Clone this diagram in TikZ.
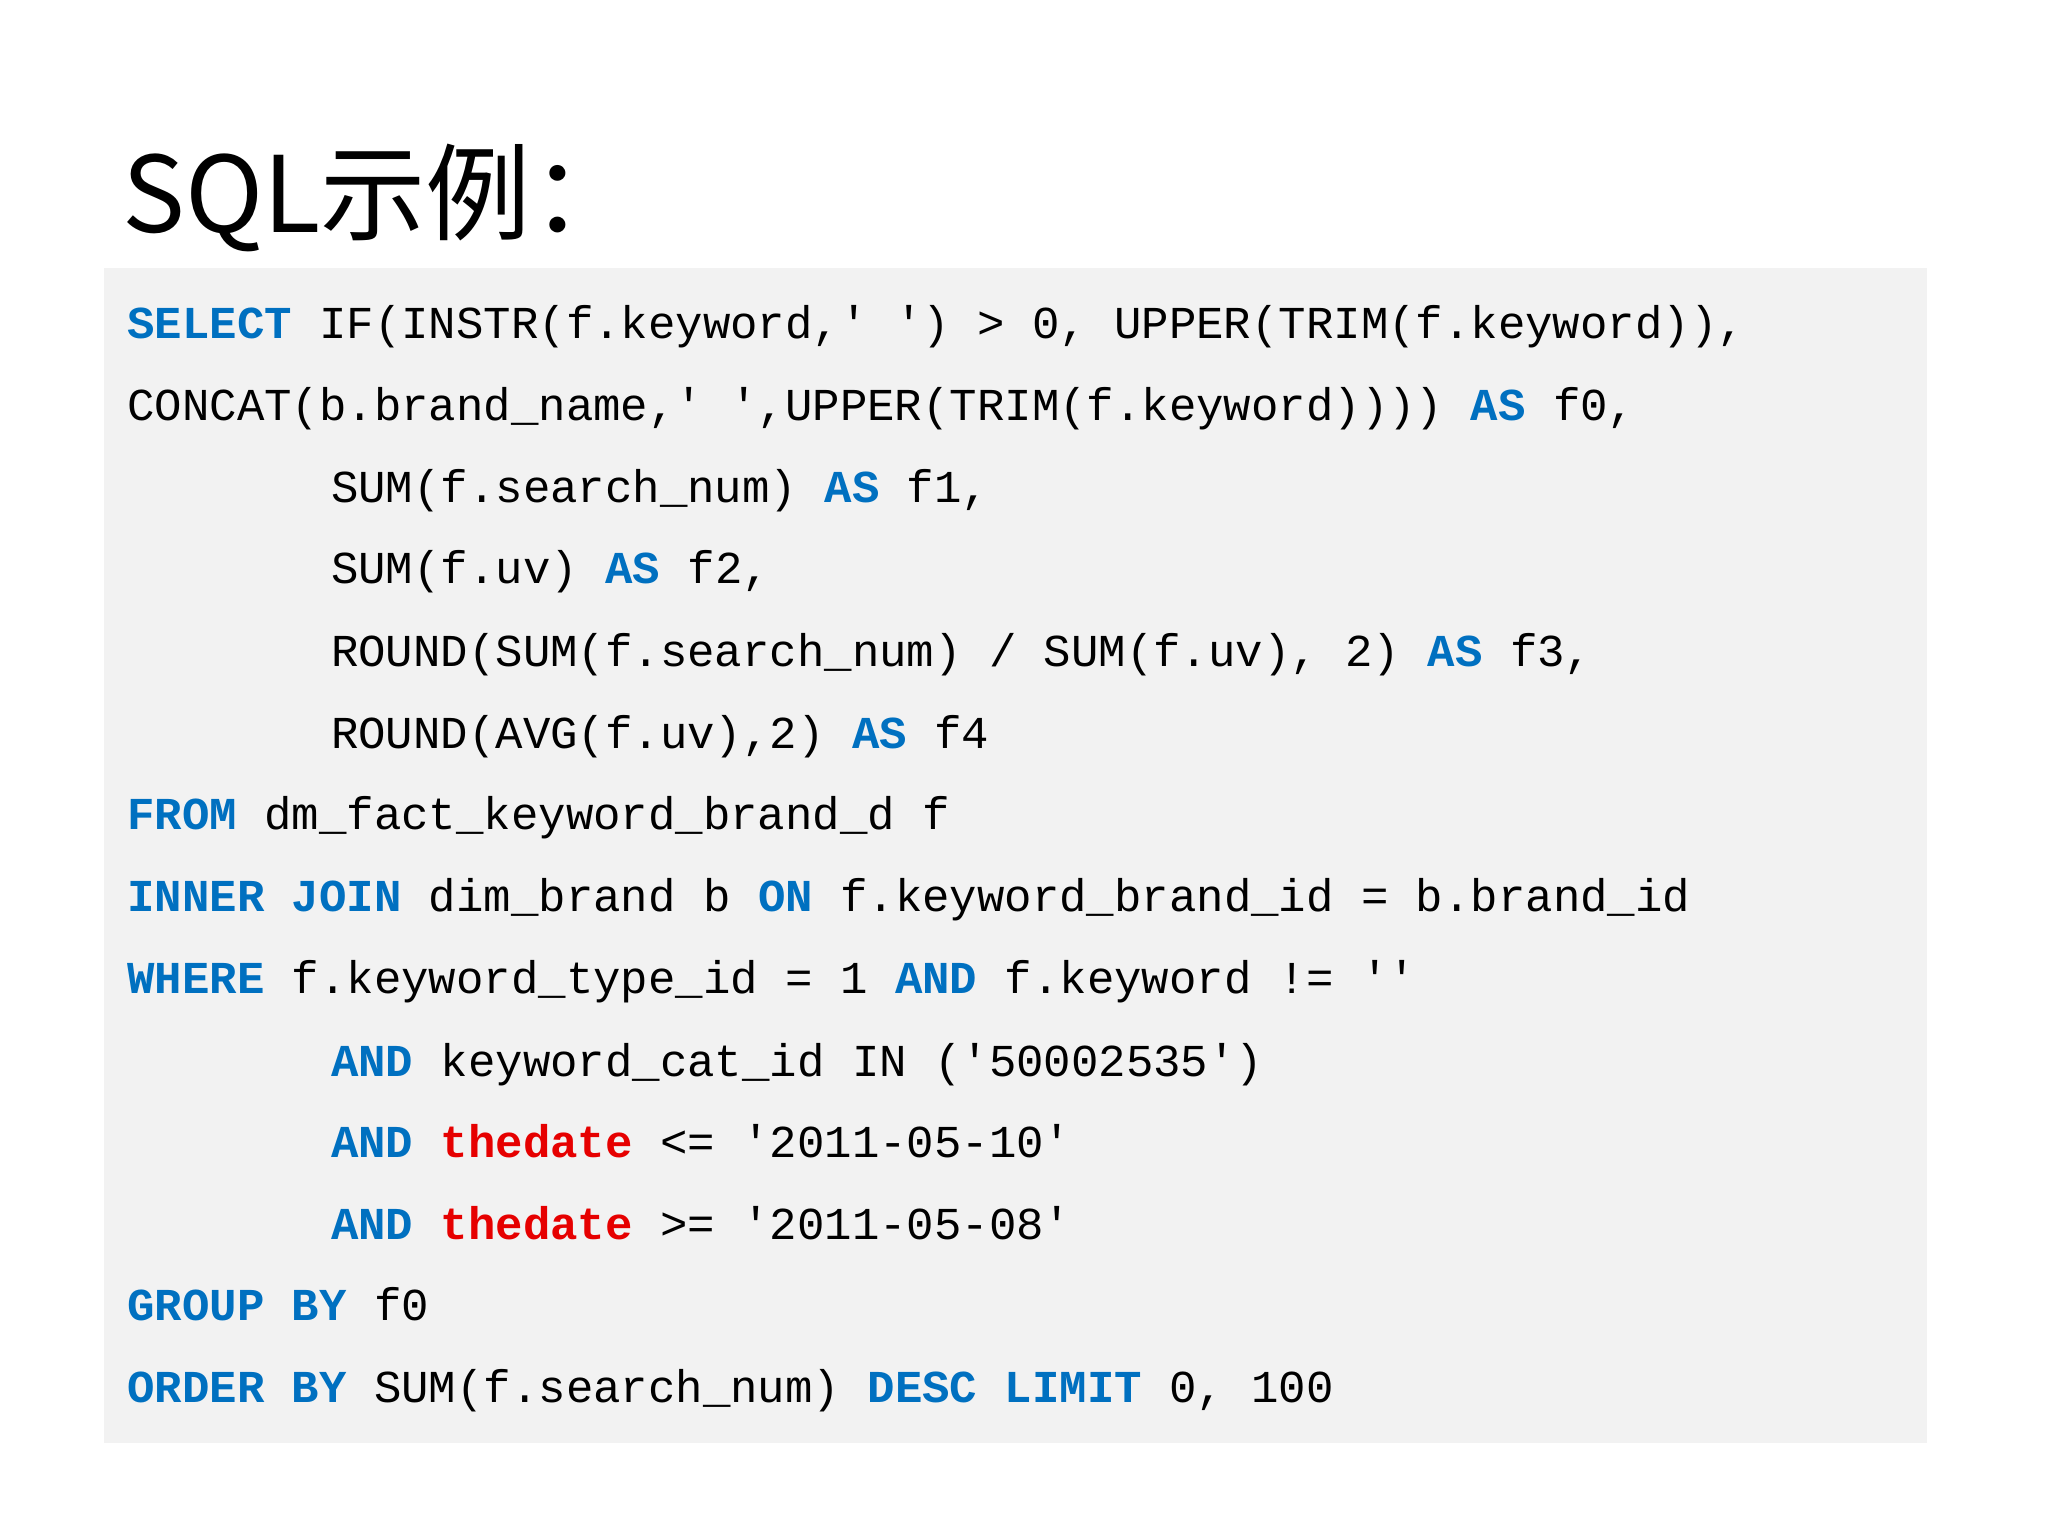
\documentclass[tikz,border=0pt]{standalone}
\usepackage{fontspec}
\setmonofont{Liberation Mono}
\newfontfamily\cjk{Noto Sans CJK SC}
\definecolor{kwblue}{RGB}{0,112,192}
\definecolor{kwred}{RGB}{230,0,0}
\definecolor{codebg}{RGB}{242,242,242}
\newcommand{\kw}[1]{\textcolor{kwblue}{\textbf{#1}}}
\newcommand{\hl}[1]{\textcolor{kwred}{\textbf{#1}}}
\begin{document}
\begin{tikzpicture}[x=0.01306cm, y=-0.01306cm,
  codeline/.style={anchor=base west, inner sep=0pt, font=\fontsize{13}{15}\ttfamily}]
  \useasboundingbox (0,0) rectangle (1568,1176);
  % title
  \node[anchor=base west, inner sep=0pt, font=\cjk\fontsize{30}{34}\selectfont] (title) at (93,178) {SQL示例：};
  % code panel
  \fill[codebg] (80,205) rectangle (1475,1105);
  \node[codeline] (l1) at (97,259) {\kw{SELECT} IF(INSTR(f.keyword,' ') > 0, UPPER(TRIM(f.keyword)),};
  \node[codeline] (l2) at (97,322) {CONCAT(b.brand\_name,' ',UPPER(TRIM(f.keyword)))) \kw{AS} f0,};
  \node[codeline] (l3) at (253,385) {SUM(f.search\_num) \kw{AS} f1,};
  \node[codeline] (l4) at (253,447) {SUM(f.uv) \kw{AS} f2,};
  \node[codeline] (l5) at (253,510) {ROUND(SUM(f.search\_num) / SUM(f.uv), 2) \kw{AS} f3,};
  \node[codeline] (l6) at (253,573) {ROUND(AVG(f.uv),2) \kw{AS} f4};
  \node[codeline] (l7) at (97,635) {\kw{FROM} dm\_fact\_keyword\_brand\_d f};
  \node[codeline] (l8) at (97,698) {\kw{INNER} \kw{JOIN} dim\_brand b \kw{ON} f.keyword\_brand\_id = b.brand\_id};
  \node[codeline] (l9) at (97,761) {\kw{WHERE} f.keyword\_type\_id = 1 \kw{AND} f.keyword != ''};
  \node[codeline] (l10) at (253,824) {\kw{AND} keyword\_cat\_id IN ('50002535')};
  \node[codeline] (l11) at (253,886) {\kw{AND} \hl{thedate} <= '2011-05-10'};
  \node[codeline] (l12) at (253,949) {\kw{AND} \hl{thedate} >= '2011-05-08'};
  \node[codeline] (l13) at (97,1011) {\kw{GROUP} \kw{BY} f0};
  \node[codeline] (l14) at (97,1074) {\kw{ORDER} \kw{BY} SUM(f.search\_num) \kw{DESC} \kw{LIMIT} 0, 100};
\end{tikzpicture}
\end{document}
